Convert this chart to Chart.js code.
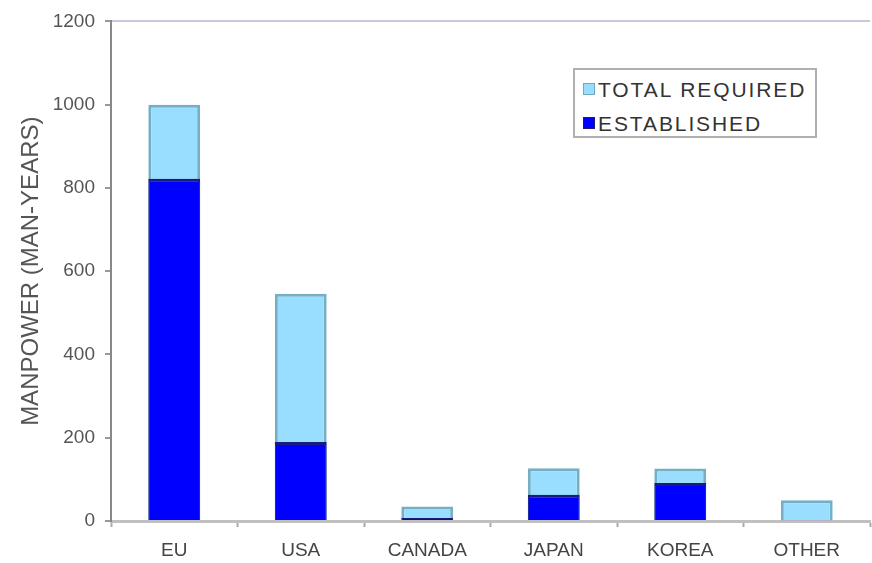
<!DOCTYPE html>
<html>
<head>
<meta charset="utf-8">
<script src="https://cdn.jsdelivr.net/npm/chart.js@4.4.1/dist/chart.umd.min.js"></script>
<style>
  html, body { margin: 0; padding: 0; background: #fff; }
  #wrap { position: relative; width: 872px; height: 563px; }
  #legenda {
    position: absolute; left: 573px; top: 68px; width: 240px; height: 66px;
    border: 2px solid #b0b0b0; background: #fff;
    font-family: "Liberation Sans", Arial, sans-serif; font-size: 21px; color: #333; letter-spacing: 1.9px;
  }
  #legenda .item { position: absolute; left: 8px; height: 22px; line-height: 22px; white-space: nowrap; }
  #legenda .box { display: inline-block; width: 10px; height: 10px; margin-right: 3px; vertical-align: 2px; }
</style>
</head>
<body>
<div id="wrap">
  <canvas id="grafico" width="872" height="563"></canvas>
  <div id="legenda">
    <div class="item" style="top:9px"><span class="box" style="background:#99ddff;border:1px solid #6fa8bf"></span>TOTAL REQUIRED</div>
    <div class="item" style="top:43px"><span class="box" style="background:#0000ff;border:1px solid #1a1a80"></span>ESTABLISHED</div>
  </div>
</div>
<script>
var categorias = ['EU', 'USA', 'CANADA', 'JAPAN', 'KOREA', 'OTHER'];
var totalRequerido = [1000, 546, 35, 127, 126, 50];
var estabelecido = [822, 190, 7, 63, 91, 2];
var yTicks = [0, 200, 400, 600, 800, 1000, 1200];

var fonte = '"Liberation Sans", Arial, sans-serif';

var ctx = document.getElementById('grafico');
var grafico = new Chart(ctx, {
  type: 'bar',
  data: {
    labels: categorias,
    datasets: [
      // primeiro dataset fica por cima
      { label: 'ESTABLISHED', data: estabelecido, backgroundColor: '#0000ff', borderColor: '#1a1a80', borderWidth: { top: 3, left: 1, right: 1, bottom: 0 }, borderSkipped: false, grouped: false },
      { label: 'TOTAL REQUIRED', data: totalRequerido, backgroundColor: '#99ddff', borderColor: '#74afc4', borderWidth: { top: 3, left: 3, right: 3, bottom: 0 }, borderSkipped: false, grouped: false }
    ]
  },
  options: {
    responsive: false,
    animation: false,
    layout: { padding: { top: 18, right: 2, left: 0, bottom: 0 } },
    datasets: { bar: { categoryPercentage: 1, barPercentage: 0.41 } },
    plugins: { legend: { display: false }, tooltip: { enabled: false } },
    scales: {
      x: {
        grid: { offset: true, color: 'transparent', tickColor: '#aaaaaa', tickLength: 6, tickWidth: 2 },
        border: { color: '#c0c0c0', width: 3 },
        ticks: { color: '#444', font: { family: fonte, size: 19 }, padding: 12 },
        afterFit: function(s) { s.height = 42; }
      },
      y: {
        min: 0, max: 1200,
        afterBuildTicks: function(s) { s.ticks = yTicks.map(function(v){ return { value: v }; }); },
        grid: {
          color: function(c) { return c.tick && c.tick.value === 1200 ? '#c8c8dc' : 'transparent'; },
          lineWidth: 2, tickColor: '#999', tickLength: 6
        },
        border: { color: '#888', width: 2 },
        ticks: { color: '#555', font: { family: fonte, size: 19 }, padding: 10, callback: function(v) { return '' + v; } },
        title: { display: true, text: 'MANPOWER (MAN-YEARS)', color: '#555', font: { family: fonte, size: 24 }, padding: { top: 17, bottom: 0 } },
        afterFit: function(s) { s.width = 111; }
      }
    }
  }
});
</script>
</body>
</html>
